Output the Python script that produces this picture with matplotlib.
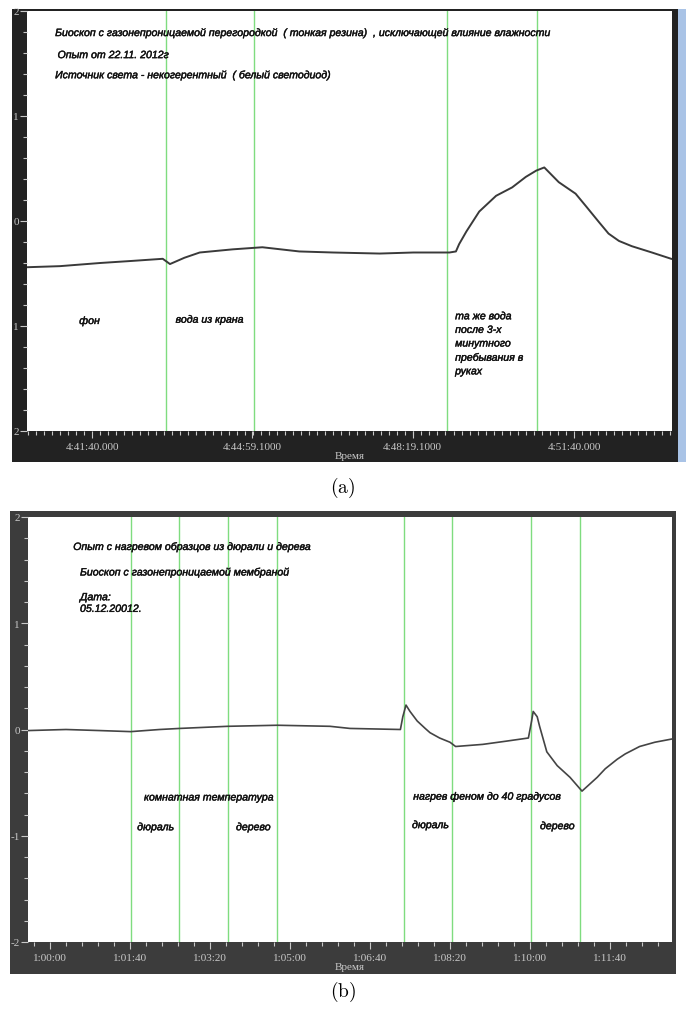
import numpy as np
import matplotlib
matplotlib.use("Agg")
import matplotlib.pyplot as plt
import matplotlib.patheffects as pe
from matplotlib.patches import Rectangle
from matplotlib.ticker import FixedLocator, MultipleLocator

plt.rcParams['mathtext.fontset'] = 'cm'

# ---- panel (a): seconds from 4:41:40 ----
t_a = [-80, -40, 10, 50, 88, 97, 115, 134, 175, 212, 235, 258, 300, 358, 400, 445, 453,
       457, 466, 482, 503, 523, 540, 553, 563, 581, 602, 615, 631, 643, 656, 672, 697, 721]
v_a = [-0.44, -0.43, -0.40, -0.38, -0.36, -0.41, -0.35, -0.30, -0.27, -0.25, -0.27, -0.29,
       -0.30, -0.31, -0.30, -0.30, -0.29, -0.22, -0.10, 0.09, 0.24, 0.32, 0.42, 0.48, 0.51,
       0.37, 0.26, 0.14, -0.01, -0.12, -0.19, -0.24, -0.30, -0.36]
marks_a = [92, 202, 442, 554]
ticks_a = [0, 199.1, 399.1, 600]
ticklabels_a = ['4:41:40.000', '4:44:59.1000', '4:48:19.1000', '4:51:40.000']
ylabels_a = ['2', '1', '0', '1', '2']

# ---- panel (b): seconds from 1:00:00 ----
t_b = [-27, 20, 62, 101, 137, 162, 222, 284, 350, 375, 438, 441, 445, 450, 459, 469, 475,
       487, 500, 507, 541, 570, 598, 602, 604, 609, 612, 621, 634, 650, 665, 684, 694, 709,
       719, 737, 756, 777]
v_b = [-0.01, 0.0, -0.01, -0.02, 0.0, 0.01, 0.03, 0.04, 0.03, 0.01, 0.0, 0.12, 0.23,
       0.17, 0.08, 0.01, -0.03, -0.08, -0.12, -0.16, -0.14, -0.11, -0.08, 0.08, 0.17,
       0.12, 0.03, -0.21, -0.34, -0.45, -0.58, -0.45, -0.37, -0.28, -0.23, -0.16, -0.12,
       -0.09]
marks_b = [101, 161, 222, 284, 442, 502, 601, 662]
ticks_b = [0, 100, 200, 300, 400, 500, 600, 700]
ticklabels_b = ['1:00:00', '1:01:40', '1:03:20', '1:05:00', '1:06:40', '1:08:20', '1:10:00', '1:11:40']
ylabels_b = ['2', '1', '0', '-1', '-2']

W, H = 686, 1012
fig = plt.figure(figsize=(W / 100, H / 100), dpi=100)


def fbox(x0, y0, x1, y1):
    # pixel box (from top-left) -> figure coords
    return [x0 / W, 1 - y1 / H, (x1 - x0) / W, (y1 - y0) / H]


def frame(x0, y0, x1, y1, color):
    b = fbox(x0, y0, x1, y1)
    fig.patches.append(Rectangle((b[0], b[1]), b[2], b[3], transform=fig.transFigure,
                                 facecolor=color, edgecolor='none', zorder=-10))


frame(12, 10, 678, 463, '#222222')
frame(678, 10, 686, 463, '#a9c3e6')
frame(10, 512, 676, 975, '#3c3c3c')

tick_col = '#c8c8c8'
afont = dict(family='Liberation Sans', style='italic', fontsize=7.6, color='#111111',
             path_effects=[pe.withStroke(linewidth=0.3, foreground='#111111')])


def setup(ax, xlim, ticks, labels, ylabels, minor):
    ax.set_facecolor('white')
    ax.set_xlim(*xlim)
    ax.set_ylim(-2, 2)
    for s in ax.spines.values():
        s.set_visible(False)
    ax.xaxis.set_major_locator(FixedLocator(ticks))
    ax.set_xticklabels(labels, family='Liberation Serif', fontsize=8, color=tick_col)
    ax.xaxis.set_minor_locator(MultipleLocator(minor))
    ax.set_yticks([2, 1, 0, -1, -2])
    ax.set_yticklabels(ylabels, family='Liberation Serif', fontsize=8, color=tick_col)
    ax.yaxis.set_minor_locator(MultipleLocator(0.2))
    ax.tick_params(which='major', direction='out', length=5, width=0.8, color=tick_col, pad=3)
    ax.tick_params(which='minor', direction='out', length=3, width=0.8, color=tick_col)
    ax.tick_params(axis='y', pad=1)
    ax.set_xlabel('Время', family='Liberation Serif', fontsize=8, color=tick_col, labelpad=0)


# ---- panel (a)
ax1 = fig.add_axes(fbox(27, 12, 672, 432))
setup(ax1, (-81, 722), ticks_a, ticklabels_a, ylabels_a, 10)
for m in marks_a:
    ax1.axvline(m, color='#7fdc7f', lw=1.0, zorder=1)
ax1.plot(t_a, v_a, color='#3a3a3a', lw=1.4, zorder=2)
ax1.text(-46, 1.79, 'Биоскоп с газонепроницаемой перегородкой  ( тонкая резина)  , исключающей влияние влажности',
         va='center', **afont)
ax1.text(-43, 1.58, 'Опыт от 22.11. 2012г', va='center', **afont)
ax1.text(-46, 1.39, 'Источник света - некогерентный  ( белый светодиод)', va='center', **afont)
ax1.text(-16, -0.95, 'фон', va='center', **afont)
ax1.text(104, -0.94, 'вода из крана', va='center', **afont)
ax1.text(452, -0.86, 'та же вода\nпосле 3-х\nминутного\nпребывания в\nруках', va='top',
         linespacing=1.45, **afont)

# ---- panel (b)
ax2 = fig.add_axes(fbox(28, 518, 672, 943))
setup(ax2, (-27.5, 777.5), ticks_b, ticklabels_b, ylabels_b, 20)
for m in marks_b:
    ax2.axvline(m, color='#7fdc7f', lw=1.0, zorder=1)
ax2.plot(t_b, v_b, color='#444444', lw=1.2, zorder=2)
ax2.text(29, 1.72, 'Опыт с нагревом образцов из дюрали и дерева', va='center', **afont)
ax2.text(37.5, 1.48, 'Биоскоп с газонепроницаемой мембраной', va='center', **afont)
ax2.text(37.5, 1.19, 'Дата:\n05.12.20012.', va='center', linespacing=1.2, **afont)
ax2.text(117.5, -0.64, 'комнатная температура', va='center', **afont)
ax2.text(109, -0.92, 'дюраль', va='center', **afont)
ax2.text(232.5, -0.92, 'дерево', va='center', **afont)
ax2.text(454, -0.63, 'нагрев феном до 40 градусов', va='center', **afont)
ax2.text(452.5, -0.90, 'дюраль', va='center', **afont)
ax2.text(612.5, -0.91, 'дерево', va='center', **afont)

fig.text(343 / W, 1 - 488 / H, r'$\mathrm{(a)}$', ha='center', va='center', fontsize=14)
fig.text(343 / W, 1 - 992 / H, r'$\mathrm{(b)}$', ha='center', va='center', fontsize=14)

fig.savefig('out.png', dpi=100, facecolor='white')
